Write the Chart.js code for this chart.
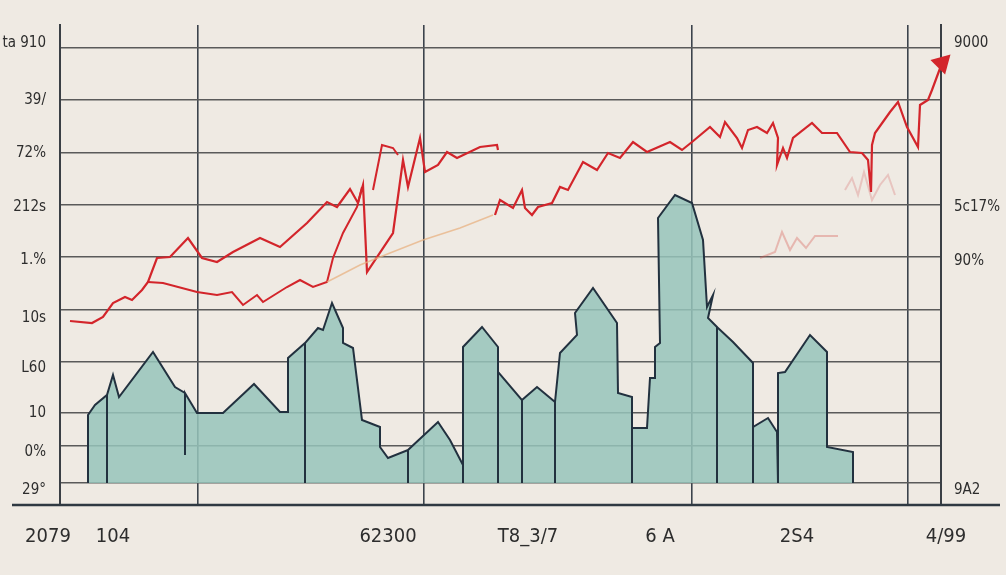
<!DOCTYPE html>
<html>
<head>
<meta charset="utf-8">
<script src="https://cdn.jsdelivr.net/npm/chart.js@4.4.1/dist/chart.umd.min.js"></script>
<style>
    html, body { margin: 0; padding: 0; background: #efeae3; }
    #wrap { width: 1006px; height: 575px; }
</style>
</head>
<body>
<div id="wrap"><canvas id="chart"></canvas></div>
<script>
// Axes (ticks and labels)
const xLabelVals = [-1.2, 5.3, 32.8, 46.8, 60.0, 73.7, 88.6];
const xLabels = ['2079', '104', '62300', 'T8_3/7', '6 A', '2S4', '4/99'];
const xGridVals = [13.8, 36.4, 63.2, 84.8];
const yGridVals = [2.2, 5.9, 9.2, 14.3, 19.5, 24.8, 30.0, 35.2, 40.5, 45.7];
const yLeftVals = [1.5, 5.3, 9.2, 13.7, 18.7, 24.5, 29.8, 35.2, 40.5, 46.2];
const yLeftLabels = ['29°', '0%', '10', 'L60', '10s', '1.%', '212s', '72%', '39/', 'ta 910'];
const yRightVals = [1.5, 24.4, 29.8, 46.2];
const yRightLabels = ['9A2', '90%', '5c17%', '9000'];

// Teal block silhouette
const baseLevel = 2.2;
const blockX = [2.8, 2.8, 3.5, 4.7, 4.7, 4.7, 5.3, 5.9, 9.3, 11.5, 12.5, 12.5, 12.5, 13.7, 16.3, 19.4, 22.0, 22.8, 22.8, 24.5, 24.5, 24.5,
    25.8, 26.3, 27.2, 28.3, 28.3, 29.3, 30.2, 32.0, 32.0, 32.8, 34.8, 34.8, 34.8, 37.8, 39.0, 40.3, 40.3, 40.3, 42.2, 43.8,
    43.8, 43.8, 46.2, 46.2, 46.2, 47.7, 49.5, 49.5, 49.5, 50.0, 51.7, 51.5, 53.3, 55.7, 55.8, 57.2, 57.2, 57.2, 58.7, 59.0,
    59.5, 59.5, 60.0, 59.8, 61.5, 63.2, 64.3, 64.7, 65.3, 64.8, 65.7, 65.7, 65.7, 67.3, 69.3, 69.3, 69.3, 70.8, 71.7, 71.8,
    71.8, 72.5, 75.0, 76.7, 76.7, 79.3, 79.3];
const blockY = [2.2, 9.0, 10.0, 11.0, 2.2, 11.0, 13.0, 10.8, 15.3, 11.8, 11.2, 5.0, 11.2, 9.2, 9.2, 12.1, 9.3, 9.3, 14.7, 16.2, 2.2, 16.2,
    17.7, 17.5, 20.2, 17.7, 16.2, 15.7, 8.5, 7.8, 5.8, 4.7, 5.5, 2.2, 5.5, 8.3, 6.5, 4.0, 2.2, 15.8, 17.8, 15.8,
    2.2, 13.3, 10.5, 2.2, 10.5, 11.8, 10.3, 2.2, 10.3, 15.2, 17.0, 19.2, 21.7, 18.2, 11.2, 10.8, 2.2, 7.7, 7.7, 12.7,
    12.7, 15.8, 16.2, 28.7, 31.0, 30.2, 26.5, 19.8, 21.0, 18.7, 17.8, 2.2, 17.8, 16.3, 14.2, 2.2, 7.8, 8.7, 7.3, 2.2,
    13.2, 13.3, 17.0, 15.3, 5.8, 5.3, 2.2];

// Main red line (null = break)
const redAX = [1.0, 3.2, 4.3, 5.3, 6.5, 7.2, 8.2, 8.8, 9.7, 11.0, 12.8, 14.2, 15.7, 17.3, 20.0, 22.0, 24.7, 26.7, 27.7, 29.0,
    29.8, 30.3, 30.7, 33.3, 34.3, 34.8, 36.0, 36.5, 37.8, 38.7, 39.7, 42.0, 43.7, 43.8, 43.6,
    43.5, 44.0, 45.3, 46.2, 46.5, 47.2, 47.8, 49.2, 50.0, 50.8, 52.3, 53.7, 54.8, 56.0, 57.3, 58.7, 61.0, 62.2, 63.2, 65.0,
    66.0, 66.5, 67.7, 68.2, 68.8, 69.7, 70.7, 71.3, 71.8, 71.7, 72.3, 72.7, 73.3, 75.2, 76.2, 77.7, 79.0, 80.2, 80.8, 81.1,
    81.2, 81.5, 83.0, 83.8, 84.7, 85.8, 86.0, 86.8, 87.2, 88.2];
const redAY = [18.4, 18.2, 18.8, 20.2, 20.8, 20.5, 21.5, 22.3, 24.7, 24.8, 26.7, 24.7, 24.3, 25.3, 26.7, 25.8, 28.2, 30.3, 29.8, 31.6,
    30.2, 32.0, 23.3, 27.2, 34.5, 31.8, 36.7, 33.3, 34.0, 35.3, 34.7, 35.8, 36.0, 35.5, null,
    29.0, 30.5, 29.7, 31.5, 29.7, 29.0, 29.8, 30.2, 31.8, 31.5, 34.3, 33.5, 35.2, 34.7, 36.3, 35.3, 36.3, 35.5, 36.3, 37.8,
    36.8, 38.3, 36.7, 35.7, 37.5, 37.8, 37.2, 38.2, 36.7, 34.0, 35.7, 34.7, 36.7, 38.2, 37.2, 37.2, 35.3, 35.2, 34.5, 31.3,
    36.0, 37.2, 39.3, 40.3, 37.8, 35.8, 40.0, 40.5, 41.5, 44.2];

// Second red line
const redBX = [8.8, 10.3, 13.7, 15.7, 17.2, 18.3, 19.7, 20.3, 22.7, 24.0, 25.3, 26.7, 27.3, 28.3, 29.7, 30.2, 30.8, 31.3, 32.2, 33.3, 33.8];
const redBY = [22.3, 22.2, 21.3, 21.0, 21.3, 20.0, 21.0, 20.3, 21.8, 22.5, 21.8, 22.3, 24.7, 27.2, 29.8, 31.8, null, 31.5, 36.0, 35.7, 35.0];

// Faint peach line
const peachX = [26.7, 30.0, 33.0, 36.3, 40.0, 43.3];
const peachY = [22.3, 24.0, 25.2, 26.5, 27.7, 29.0];

// Faint pink scribbles
const pinkAX = [70.0, 71.5, 72.2, 73.0, 73.7, 74.6, 75.5, 77.8];
const pinkAY = [24.7, 25.3, 27.3, 25.5, 26.7, 25.7, 26.9, 26.9];
const pinkBX = [78.5, 79.2, 79.8, 80.4, 81.2, 82.0, 82.8, 83.5];
const pinkBY = [31.5, 32.7, 31.0, 33.3, 30.5, 32.0, 33.0, 31.0];

function pts(xs, ys) {
    return xs.map((x, i) => ({ x: x, y: ys[i] }));
}

const FONT = "'Liberation Sans Narrow', 'DejaVu Sans Condensed', 'Liberation Sans', sans-serif";
const INK = '#2d2d2d';

// Ligne de base prolongée sur toute la largeur
const baseLinePlugin = {
    id: 'baseLine',
    afterDatasetsDraw(chart) {
        const c = chart.ctx;
        const yb = chart.chartArea.bottom;
        c.save();
        c.strokeStyle = '#2f3942';
        c.lineWidth = 2.5;
        c.beginPath();
        c.moveTo(12, yb);
        c.lineTo(chart.width - 6, yb);
        c.stroke();
        c.restore();
    }
};

function fixedTicks(vals) {
    return function (scale) {
        scale.ticks = vals.map(v => ({ value: v }));
    };
}

const redPts = pts(redAX, redAY);
const lastRed = redPts.length - 1;

new Chart(document.getElementById('chart'), {
    type: 'line',
    data: {
        datasets: [
            {
                label: 'peach',
                data: pts(peachX, peachY),
                borderColor: 'rgba(232, 178, 130, 0.75)',
                borderWidth: 1.5,
                pointRadius: 0,
                fill: false
            },
            {
                label: 'pinkA',
                data: pts(pinkAX, pinkAY),
                borderColor: 'rgba(214, 90, 80, 0.35)',
                borderWidth: 2,
                pointRadius: 0,
                fill: false
            },
            {
                label: 'pinkB',
                data: pts(pinkBX, pinkBY),
                borderColor: 'rgba(214, 110, 110, 0.3)',
                borderWidth: 2,
                pointRadius: 0,
                fill: false
            },
            {
                label: 'blocks',
                data: pts(blockX, blockY),
                borderColor: '#22313f',
                borderWidth: 2,
                backgroundColor: 'rgba(150, 196, 187, 0.85)',
                fill: { value: baseLevel },
                pointRadius: 0,
                borderJoinStyle: 'miter'
            },
            {
                label: 'redB',
                data: pts(redBX, redBY),
                borderColor: '#d3252b',
                borderWidth: 2,
                pointRadius: 0,
                spanGaps: false,
                fill: false
            },
            {
                label: 'redA',
                data: redPts,
                borderColor: '#d3252b',
                backgroundColor: '#d3252b',
                borderWidth: 2.2,
                spanGaps: false,
                fill: false,
                clip: false,
                pointStyle: 'triangle',
                pointRotation: 45,
                pointRadius: ctx => ctx.dataIndex === lastRed ? 12 : 0,
                pointBorderWidth: 0
            }
        ]
    },
    options: {
        responsive: true,
        maintainAspectRatio: false,
        animation: false,
        events: [],
        layout: { padding: { top: 25, left: 0, right: 0, bottom: 0 } },
        plugins: {
            legend: { display: false },
            tooltip: { enabled: false }
        },
        elements: { line: { tension: 0 } },
        scales: {
            x: {
                type: 'linear',
                position: 'bottom',
                min: 0,
                max: 88.1,
                afterBuildTicks: fixedTicks(xLabelVals),
                afterFit: s => { s.height = 70; },
                grid: { display: false },
                border: { display: false },
                ticks: {
                    autoSkip: false,
                    maxRotation: 0,
                    padding: 12,
                    color: INK,
                    font: { family: FONT, size: 20 },
                    callback: (v, i) => xLabels[i]
                }
            },
            xg: {
                type: 'linear',
                position: 'bottom',
                min: 0,
                max: 88.1,
                afterBuildTicks: fixedTicks(xGridVals),
                afterFit: s => { s.height = 0; },
                grid: { color: '#3c434c', lineWidth: 1.6, drawTicks: false },
                border: { display: false },
                ticks: { display: false }
            },
            y: {
                type: 'linear',
                position: 'left',
                min: 0,
                max: 48,
                afterBuildTicks: fixedTicks(yLeftVals),
                afterFit: s => { s.width = 60; },
                grid: { display: false },
                border: { display: true, color: '#3a3f45', width: 2 },
                ticks: {
                    autoSkip: false,
                    padding: 6,
                    color: INK,
                    font: { family: FONT, size: 15 },
                    callback: (v, i) => yLeftLabels[i]
                }
            },
            yg: {
                type: 'linear',
                position: 'left',
                min: 0,
                max: 48,
                afterBuildTicks: fixedTicks(yGridVals),
                afterFit: s => { s.width = 0; },
                grid: { color: '#5a5a5a', lineWidth: 1.5, drawTicks: false },
                border: { display: false },
                ticks: { display: false }
            },
            y2: {
                type: 'linear',
                position: 'right',
                min: 0,
                max: 48,
                afterBuildTicks: fixedTicks(yRightVals),
                afterFit: s => { s.width = 65; },
                grid: { display: false },
                border: { display: true, color: '#3a3f45', width: 2 },
                ticks: {
                    autoSkip: false,
                    padding: 5,
                    color: INK,
                    font: { family: FONT, size: 15 },
                    callback: (v, i) => yRightLabels[i]
                }
            }
        }
    },
    plugins: [baseLinePlugin]
});
</script>
</body>
</html>
